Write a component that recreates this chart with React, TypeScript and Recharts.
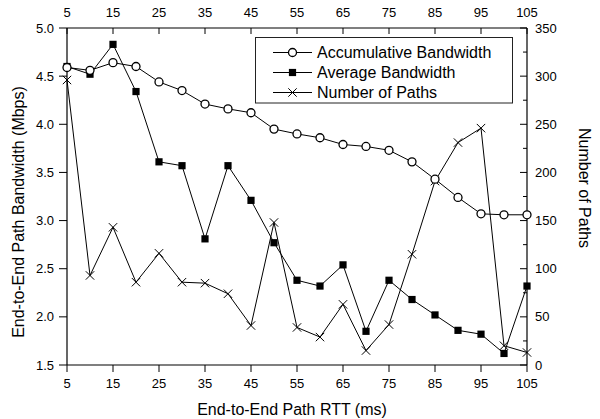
import React from "react";
import { ComposedChart, Line, XAxis, YAxis, Legend } from "recharts";

const rttValues = [5, 10, 15, 20, 25, 30, 35, 40, 45, 50, 55, 60, 65, 70, 75, 80, 85, 90, 95, 100, 105];
const accumulativeBandwidth = [4.59, 4.56, 4.64, 4.6, 4.44, 4.35, 4.21, 4.16, 4.12, 3.95, 3.9, 3.86, 3.79, 3.77, 3.73, 3.61, 3.43, 3.24, 3.07, 3.06, 3.06];
const averageBandwidth = [4.6, 4.52, 4.83, 4.34, 3.61, 3.57, 2.81, 3.57, 3.21, 2.77, 2.38, 2.32, 2.54, 1.85, 2.38, 2.18, 2.02, 1.86, 1.82, 1.62, 2.32];
const numberOfPaths = [296, 93, 143, 86, 116, 86, 85, 74, 41, 148, 39, 29, 63, 15, 42, 115, 191, 231, 246, 20, 13];

const xTicks = [5, 15, 25, 35, 45, 55, 65, 75, 85, 95, 105];
const leftTicks = [1.5, 2.0, 2.5, 3.0, 3.5, 4.0, 4.5, 5.0];
const rightTicks = [0, 25, 50, 75, 100, 125, 150, 175, 200, 225, 250, 275, 300, 325, 350];

const seriesNames = ["Accumulative Bandwidth", "Average Bandwidth", "Number of Paths"];

const data = rttValues.map((r, i) => ({
  rtt: r,
  acc: accumulativeBandwidth[i],
  avg: averageBandwidth[i],
  paths: numberOfPaths[i],
}));

const FONT = "'Liberation Sans', Arial, Helvetica, sans-serif";
const INK = "#000";

const CircleMark = ({ cx, cy }: { cx: number; cy: number }) => (
  <circle cx={cx} cy={cy} r={4} fill="#fff" stroke={INK} strokeWidth={1.3} />
);
const SquareMark = ({ cx, cy }: { cx: number; cy: number }) => (
  <rect x={cx - 3.6} y={cy - 3.6} width={7.2} height={7.2} fill={INK} />
);
const CrossMark = ({ cx, cy }: { cx: number; cy: number }) => (
  <g stroke={INK} strokeWidth={1}>
    <line x1={cx - 4.2} y1={cy - 4.2} x2={cx + 4.2} y2={cy + 4.2} />
    <line x1={cx - 4.2} y1={cy + 4.2} x2={cx + 4.2} y2={cy - 4.2} />
  </g>
);

const LeftTick = (props: any) => {
  const { x, y, payload } = props;
  return (
    <g>
      <line x1={x - 8} x2={x} y1={y} y2={y} stroke={INK} />
      <text x={x - 13} y={y + 4.5} textAnchor="end" fontSize={13} fontFamily={FONT} fill={INK}>
        {Number(payload.value).toFixed(1)}
      </text>
    </g>
  );
};

const RightTick = (props: any) => {
  const { x, y, payload } = props;
  const major = payload.value % 50 === 0;
  return (
    <g>
      <line x1={x - (major ? 7 : 4)} x2={x} y1={y} y2={y} stroke={INK} />
      {major && (
        <text x={x + 8} y={y + 4.5} textAnchor="start" fontSize={13} fontFamily={FONT} fill={INK}>
          {payload.value}
        </text>
      )}
    </g>
  );
};

const BottomTick = (props: any) => {
  const { x, y, payload } = props;
  return (
    <g>
      <line x1={x} x2={x} y1={y} y2={y + 7} stroke={INK} />
      <text x={x} y={y + 22.5} textAnchor="middle" fontSize={13} fontFamily={FONT} fill={INK}>
        {payload.value}
      </text>
    </g>
  );
};

const TopTick = (props: any) => {
  const { x, y, payload } = props;
  return (
    <g>
      <line x1={x} x2={x} y1={y} y2={y + 6} stroke={INK} />
      <text x={x} y={y - 11} textAnchor="middle" fontSize={13} fontFamily={FONT} fill={INK}>
        {payload.value}
      </text>
    </g>
  );
};

const LegendBox = () => {
  const rows = [0, 1, 2];
  const marks = [CircleMark, SquareMark, CrossMark];
  return (
    <svg width={258} height={67} style={{ display: "block" }}>
      <rect x={0.5} y={0.5} width={257} height={65.5} fill="#fff" stroke="#222" strokeWidth={1} />
      {rows.map((i) => {
        const cy = 15.5 + i * 20;
        const M = marks[i];
        return (
          <g key={i}>
            <line x1={18} x2={57} y1={cy} y2={cy} stroke={INK} strokeWidth={1} />
            <M cx={37.5} cy={cy} />
            <text x={62} y={cy + 5.8} fontSize={16} fontFamily={FONT} fill={INK}>
              {seriesNames[i]}
            </text>
          </g>
        );
      })}
    </svg>
  );
};

export default function App() {
  return (
    <div style={{ position: "absolute", left: 0, top: 0, width: 600, height: 419, background: "#fff" }}>
      <ComposedChart width={600} height={419} data={data} margin={{ top: 0, right: 0, bottom: 0, left: 0 }}>
        <XAxis
          xAxisId="bottom"
          dataKey="rtt"
          type="number"
          domain={[5, 105]}
          ticks={xTicks}
          interval={0}
          orientation="bottom"
          height={54}
          tickLine={false}
          tickSize={0}
          tickMargin={0}
          axisLine={{ stroke: INK, strokeWidth: 1.2 }}
          tick={<BottomTick />}
          label={{
            content: () => (
              <text x={292} y={414.5} textAnchor="middle" fontSize={16} fontFamily={FONT} fill={INK}>
                End-to-End Path RTT (ms)
              </text>
            ),
          }}
        />
        <XAxis
          xAxisId="top"
          dataKey="rtt"
          type="number"
          domain={[5, 105]}
          ticks={xTicks}
          interval={0}
          orientation="top"
          height={28}
          tickLine={false}
          tickSize={0}
          tickMargin={0}
          axisLine={{ stroke: INK, strokeWidth: 1.2 }}
          tick={<TopTick />}
        />
        <YAxis
          yAxisId="left"
          orientation="left"
          domain={[1.5, 5]}
          ticks={leftTicks}
          interval={0}
          width={67}
          tickLine={false}
          tickSize={0}
          tickMargin={0}
          axisLine={{ stroke: INK, strokeWidth: 1.2 }}
          tick={<LeftTick />}
          label={{
            content: () => (
              <text
                x={24}
                y={212}
                textAnchor="middle"
                fontSize={16}
                fontFamily={FONT}
                fill={INK}
                transform="rotate(-90 24 212)"
              >
                End-to-End Path Bandwidth (Mbps)
              </text>
            ),
          }}
        />
        <YAxis
          yAxisId="right"
          orientation="right"
          domain={[0, 350]}
          ticks={rightTicks}
          interval={0}
          width={73}
          tickLine={false}
          tickSize={0}
          tickMargin={0}
          axisLine={{ stroke: INK, strokeWidth: 1.2 }}
          tick={<RightTick />}
          label={{
            content: () => (
              <text
                x={578.5}
                y={188}
                textAnchor="middle"
                fontSize={16}
                fontFamily={FONT}
                fill={INK}
                transform="rotate(90 578.5 188)"
              >
                Number of Paths
              </text>
            ),
          }}
        />
        <Legend
          layout="horizontal"
          verticalAlign="middle"
          align="center"
          wrapperStyle={{ left: 255, top: 37, width: 258, height: 67, margin: 0, padding: 0 }}
          content={() => <LegendBox />}
        />
        <Line
          xAxisId="bottom"
          yAxisId="right"
          dataKey="paths"
          name={seriesNames[2]}
          stroke={INK}
          strokeWidth={1}
          isAnimationActive={false}
          dot={(p: any) => <CrossMark key={`x${p.index}`} cx={p.cx} cy={p.cy} />}
          activeDot={false}
        />
        <Line
          xAxisId="bottom"
          yAxisId="left"
          dataKey="avg"
          name={seriesNames[1]}
          stroke={INK}
          strokeWidth={1}
          isAnimationActive={false}
          dot={(p: any) => <SquareMark key={`s${p.index}`} cx={p.cx} cy={p.cy} />}
          activeDot={false}
        />
        <Line
          xAxisId="bottom"
          yAxisId="left"
          dataKey="acc"
          name={seriesNames[0]}
          stroke={INK}
          strokeWidth={1}
          isAnimationActive={false}
          dot={(p: any) => <CircleMark key={`c${p.index}`} cx={p.cx} cy={p.cy} />}
          activeDot={false}
        />
      </ComposedChart>
    </div>
  );
}
